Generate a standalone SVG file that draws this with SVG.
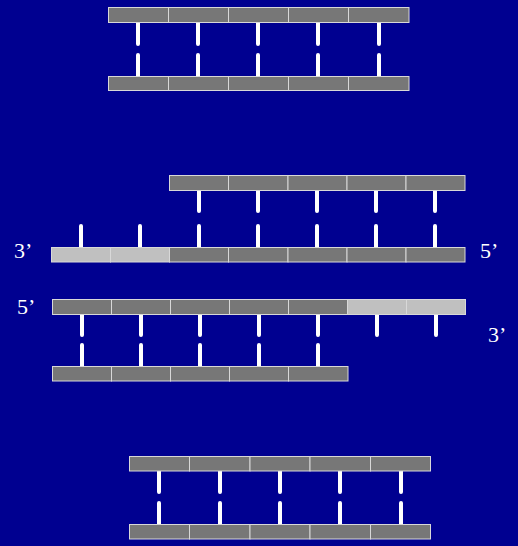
<svg xmlns="http://www.w3.org/2000/svg" width="518" height="546" viewBox="0 0 518 546">
<style>
.bg{fill:#000090}
.s{fill:#777777;stroke:#d8d8d8;stroke-width:1}
.l{fill:#c0c0c0;stroke:#d8d8d8;stroke-width:1}
.b{stroke:#ffffff;stroke-width:4;stroke-linecap:round;fill:none}
.t{font-family:"Liberation Serif","Times New Roman",serif;font-size:22px;fill:#ffffff}
</style>
<rect class="bg" x="0" y="0" width="518" height="546"/>
<g id="connectors">
<path class="b" d="M138 22V44M198 22V44M258 22V44M318 22V44M379 22V44M138 55V78M198 55V78M258 55V78M318 55V78M379 55V78"/>
<path class="b" d="M199 190V211M258 190V211M317 190V211M376 190V211M435 190V211M81 226V249M140 226V249M199 226V249M258 226V249M317 226V249M376 226V249M435 226V249"/>
<path class="b" d="M82 314V335M141 314V335M200 314V335M259 314V335M318 314V335M377 314V335M436 314V335M82 345V368M141 345V368M200 345V368M259 345V368M318 345V368"/>
<path class="b" d="M159 471V492M220 471V492M280 471V492M340 471V492M401 471V492M159 503V526M220 503V526M280 503V526M340 503V526M401 503V526"/>
</g>
<g id="strand1-top">
<rect class="s" x="108.5" y="7.5" width="60" height="15"/><rect class="s" x="168.5" y="7.5" width="60" height="15"/><rect class="s" x="228.5" y="7.5" width="60" height="15"/><rect class="s" x="288.5" y="7.5" width="60" height="15"/><rect class="s" x="348.5" y="7.5" width="60.5" height="15"/>
</g>
<g id="strand1-bottom">
<rect class="s" x="108.5" y="76.5" width="60" height="14"/><rect class="s" x="168.5" y="76.5" width="60" height="14"/><rect class="s" x="228.5" y="76.5" width="60" height="14"/><rect class="s" x="288.5" y="76.5" width="60" height="14"/><rect class="s" x="348.5" y="76.5" width="60.5" height="14"/>
</g>
<g id="strand2-top">
<rect class="s" x="169.5" y="175.5" width="59" height="15"/><rect class="s" x="228.5" y="175.5" width="59.5" height="15"/><rect class="s" x="288" y="175.5" width="59" height="15"/><rect class="s" x="347" y="175.5" width="59" height="15"/><rect class="s" x="406" y="175.5" width="59" height="15"/>
</g>
<g id="strand2-bottom">
<rect class="l" x="51.5" y="247.5" width="59" height="14.5"/><rect class="l" x="110.5" y="247.5" width="59" height="14.5"/><rect class="s" x="169.5" y="247.5" width="59" height="14.5"/><rect class="s" x="228.5" y="247.5" width="59.5" height="14.5"/><rect class="s" x="288" y="247.5" width="59" height="14.5"/><rect class="s" x="347" y="247.5" width="59" height="14.5"/><rect class="s" x="406" y="247.5" width="59" height="14.5"/>
</g>
<g id="label-3prime-a"><text class="t" x="14" y="258">3’</text></g>
<g id="label-5prime-a"><text class="t" x="480" y="258">5’</text></g>
<g id="strand3-top">
<rect class="s" x="52.5" y="299.5" width="59" height="15"/><rect class="s" x="111.5" y="299.5" width="59" height="15"/><rect class="s" x="170.5" y="299.5" width="59" height="15"/><rect class="s" x="229.5" y="299.5" width="59" height="15"/><rect class="s" x="288.5" y="299.5" width="59" height="15"/><rect class="l" x="347.5" y="299.5" width="59" height="15"/><rect class="l" x="406.5" y="299.5" width="59" height="15"/>
</g>
<g id="strand3-bottom">
<rect class="s" x="52.5" y="366.5" width="59" height="14.5"/><rect class="s" x="111.5" y="366.5" width="59" height="14.5"/><rect class="s" x="170.5" y="366.5" width="59" height="14.5"/><rect class="s" x="229.5" y="366.5" width="59" height="14.5"/><rect class="s" x="288.5" y="366.5" width="59.5" height="14.5"/>
</g>
<g id="label-5prime-b"><text class="t" x="17" y="314">5’</text></g>
<g id="label-3prime-b"><text class="t" x="488" y="342">3’</text></g>
<g id="strand4-top">
<rect class="s" x="129.5" y="456.5" width="60" height="14.5"/><rect class="s" x="189.5" y="456.5" width="60.5" height="14.5"/><rect class="s" x="250" y="456.5" width="60" height="14.5"/><rect class="s" x="310" y="456.5" width="60.5" height="14.5"/><rect class="s" x="370.5" y="456.5" width="60" height="14.5"/>
</g>
<g id="strand4-bottom">
<rect class="s" x="129.5" y="524.5" width="60" height="14.5"/><rect class="s" x="189.5" y="524.5" width="60.5" height="14.5"/><rect class="s" x="250" y="524.5" width="60" height="14.5"/><rect class="s" x="310" y="524.5" width="60.5" height="14.5"/><rect class="s" x="370.5" y="524.5" width="60" height="14.5"/>
</g>
</svg>
